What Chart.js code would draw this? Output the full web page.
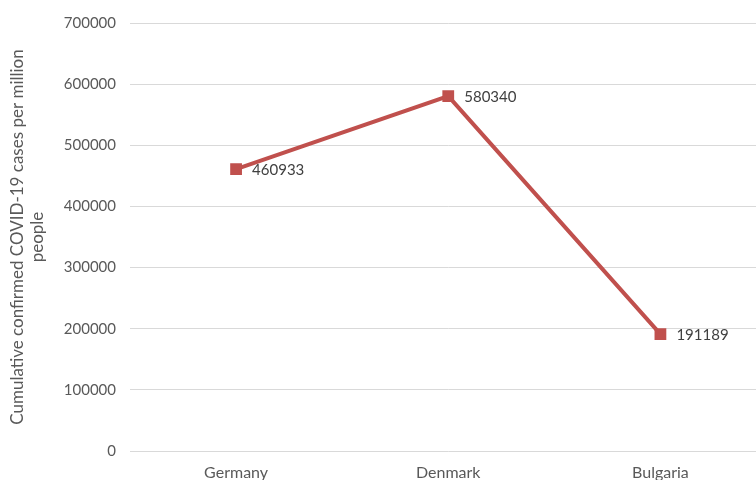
<!DOCTYPE html>
<html>
<head>
<meta charset="utf-8">
<script src="https://cdn.jsdelivr.net/npm/chart.js@4.4.1/dist/chart.umd.min.js"></script>
<style>
  html, body { margin: 0; padding: 0; background: #fff; overflow: hidden; }
  #wrap { width: 776px; height: 480px; position: relative; }
</style>
</head>
<body>
<div id="wrap"><canvas id="c"></canvas></div>
<script>
// Cumulative confirmed COVID-19 cases per million people
const countries = ['Germany', 'Denmark', 'Bulgaria'];
const casesPerMillion = [460933, 580340, 191189];
const yTitle = ['Cumulative confirmed COVID-19 cases per million', 'people'];

const FONT = 'Lato, "Open Sans", sans-serif';
const LINE_COLOR = '#C0504D';

// Writes each point's value to the right of its marker
const valueLabels = {
  id: 'valueLabels',
  afterDatasetsDraw(chart) {
    const ctx = chart.ctx;
    const meta = chart.getDatasetMeta(0);
    ctx.save();
    ctx.font = '15px ' + FONT;
    ctx.fillStyle = '#404040';
    ctx.textAlign = 'left';
    ctx.textBaseline = 'middle';
    meta.data.forEach((pt, i) => {
      ctx.fillText(String(chart.data.datasets[0].data[i]), pt.x + 16, pt.y + 1);
    });
    ctx.restore();
  }
};

new Chart(document.getElementById('c'), {
  type: 'line',
  data: {
    labels: countries,
    datasets: [{
      data: casesPerMillion,
      borderColor: LINE_COLOR,
      backgroundColor: LINE_COLOR,
      borderWidth: 4,
      pointStyle: 'rect',
      pointRadius: 5.5,
      pointHoverRadius: 5.5,
      tension: 0
    }]
  },
  options: {
    responsive: true,
    maintainAspectRatio: false,
    animation: false,
    layout: { padding: { top: 13, left: 0, right: 0, bottom: 0 } },
    plugins: { legend: { display: false }, tooltip: { enabled: false } },
    scales: {
      x: {
        offset: true,
        grid: { display: false, drawTicks: false },
        border: { display: false },
        ticks: { color: '#595959', font: { family: FONT, size: 16 }, padding: 12 },
        afterFit(scale) { scale.height = 29; }
      },
      y: {
        min: 0,
        max: 700000,
        ticks: {
          stepSize: 100000,
          color: '#595959',
          font: { family: FONT, size: 15 },
          padding: 14,
          callback: (v) => String(v)
        },
        grid: { color: '#d9d9d9', lineWidth: 1, drawTicks: false },
        border: { display: false },
        title: {
          display: true,
          text: yTitle,
          color: '#595959',
          font: { family: FONT, size: 17 },
          padding: { top: 7, bottom: 2 }
        },
        afterFit(scale) { scale.width = 130; }
      }
    }
  },
  plugins: [valueLabels]
});
</script>
</body>
</html>
